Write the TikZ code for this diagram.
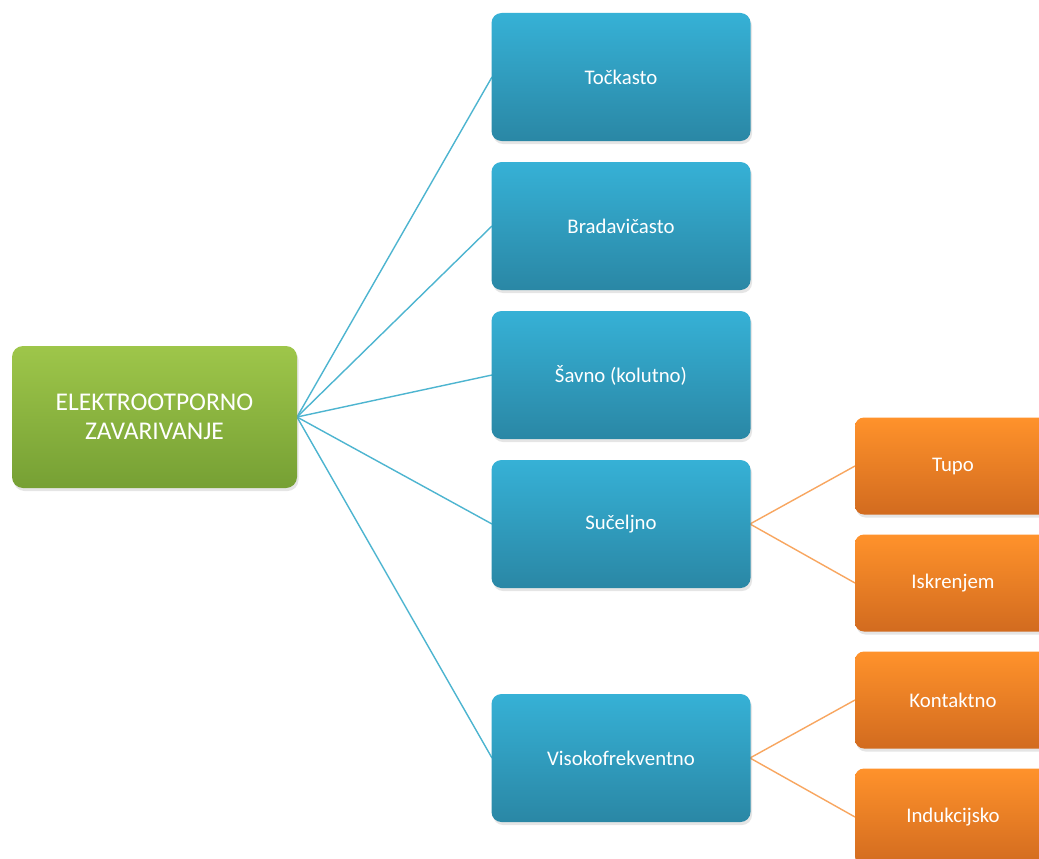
\documentclass[tikz,border=0pt]{standalone}
\usepackage{fontspec}
\setmainfont{Carlito}
\usetikzlibrary{shadows}
\definecolor{gtop}{HTML}{9EC64A}
\definecolor{gbot}{HTML}{76A034}
\definecolor{btop}{HTML}{36B1D6}
\definecolor{bbot}{HTML}{2A87A5}
\definecolor{otop}{HTML}{FF922B}
\definecolor{obot}{HTML}{D26B1F}
\definecolor{bline}{HTML}{4DB5D0}
\definecolor{oline}{HTML}{F8A660}
\tikzset{
  rootbox/.style={rounded corners=11pt, top color=gtop, bottom color=gbot, text=white,
    minimum width=285pt, minimum height=142pt, align=center, inner sep=0pt,
    font=\fontsize{25.5}{29}\selectfont,
    drop shadow={opacity=0.2, shadow xshift=1.5pt, shadow yshift=-3pt}},
  bluebox/.style={rounded corners=10pt, top color=btop, bottom color=bbot, text=white,
    minimum width=259pt, minimum height=128pt, inner sep=0pt,
    font=\fontsize{20.8}{24}\selectfont,
    drop shadow={opacity=0.2, shadow xshift=1.5pt, shadow yshift=-3pt}},
  orangebox/.style={rounded corners=9pt, top color=otop, bottom color=obot, text=white,
    minimum width=196pt, minimum height=97pt, inner sep=0pt,
    font=\fontsize{20.8}{24}\selectfont,
    drop shadow={opacity=0.2, shadow xshift=1.5pt, shadow yshift=-3pt}},
  bconn/.style={draw=bline, line width=1.4pt},
  oconn/.style={draw=oline, line width=1.4pt},
}
\begin{document}
\begin{tikzpicture}[x=1pt,y=-1pt]
\useasboundingbox (0,0) rectangle (1039,859);
\clip (0,0) rectangle (1039,859);
\fill[white] (0,0) rectangle (1039,859);
% connectors first (behind boxes)
\coordinate (rootE) at (297,417);
\coordinate (b1W) at (492,77);
\coordinate (b2W) at (492,226);
\coordinate (b3W) at (492,375);
\coordinate (b4W) at (492,524);
\coordinate (b5W) at (492,758);
\coordinate (b4E) at (750,524);
\coordinate (b5E) at (750,758);
\coordinate (o1W) at (855,466);
\coordinate (o2W) at (855,583);
\coordinate (o3W) at (855,700);
\coordinate (o4W) at (855,817);
\foreach \t in {b1W,b2W,b3W,b4W,b5W} \draw[bconn] (rootE) -- (\t);
\draw[oconn] (b4E) -- (o1W);
\draw[oconn] (b4E) -- (o2W);
\draw[oconn] (b5E) -- (o3W);
\draw[oconn] (b5E) -- (o4W);
% boxes
\node[rootbox] (root) at (154.5,417) {ELEKTROOTPORNO\\ZAVARIVANJE};
\node[bluebox] (b1) at (621,77) {Točkasto};
\node[bluebox] (b2) at (621,226) {Bradavičasto};
\node[bluebox] (b3) at (621,375) {Šavno (kolutno)};
\node[bluebox] (b4) at (621,524) {Sučeljno};
\node[bluebox] (b5) at (621,758) {Visokofrekventno};
\node[orangebox] (o1) at (953,466) {Tupo};
\node[orangebox] (o2) at (953,583) {Iskrenjem};
\node[orangebox] (o3) at (953,700) {Kontaktno};
\node[orangebox] (o4) at (953,817) {Indukcijsko};
\end{tikzpicture}
\end{document}
